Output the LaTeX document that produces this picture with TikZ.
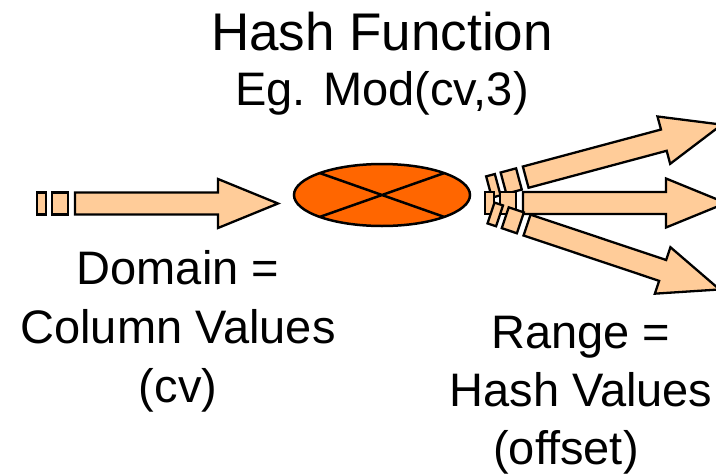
\documentclass[tikz,border=0pt]{standalone}
\usepackage{fontspec}
\setmainfont{Liberation Sans}
\usetikzlibrary{shapes.geometric}
\definecolor{peach}{HTML}{FFCC99}
\definecolor{hashorange}{HTML}{FF6600}
% striped block arrow: two stripes, then shaft and head
\tikzset{
  striparrow/.pic={
    \filldraw[arrowpart] (0,-11) rectangle (9,11);
    \filldraw[arrowpart] (15,-11) rectangle (31,11);
    \filldraw[arrowpart] (38,-11) -- (181,-11) -- (181,-24.5) -- (241,0)
      -- (181,24.5) -- (181,11) -- (38,11) -- cycle;
  }
}
\begin{document}
\begin{tikzpicture}[x=1pt, y=-1pt,
  arrowpart/.style={fill=peach, draw=black, line width=2.3pt},
  hashfun/.style={ellipse, fill=hashorange, draw=black, line width=2.5pt,
    minimum width=176pt, minimum height=62pt, inner sep=0pt, outer sep=0pt},
  big/.style={font=\fontsize{53}{60}\selectfont, anchor=base},
  txt/.style={font=\fontsize{47}{56}\selectfont, anchor=base}]
\useasboundingbox (0,0) rectangle (716,474);
\node[big] (title) at (382,50) {Hash Function};
\node[txt] (eg) at (382,105) {Eg. Mod(cv,3)};
% domain side
\pic at (37,203.5) {striparrow};
\node[txt] (dom1) at (178,284) {Domain =};
\node[txt] (dom2) at (178,343) {Column Values};
\node[txt] (dom3) at (178,402) {(cv)};
% the hash function itself
\node[hashfun] (hash) at (382,195) {};
\draw[line width=2.5pt] (hash.north west) -- (hash.south east)
  (hash.north east) -- (hash.south west);
% range side, three buckets
\pic[rotate=15] at (489,187) {striparrow};
\pic at (485,203) {striparrow};
\pic[rotate=-18.5] at (491,213) {striparrow};
\node[txt] (rng1) at (581,348) {Range =};
\node[txt] (rng2) at (581,406) {Hash Values};
\node[txt] (rng3) at (566,464) {(offset)};
\end{tikzpicture}
\end{document}
